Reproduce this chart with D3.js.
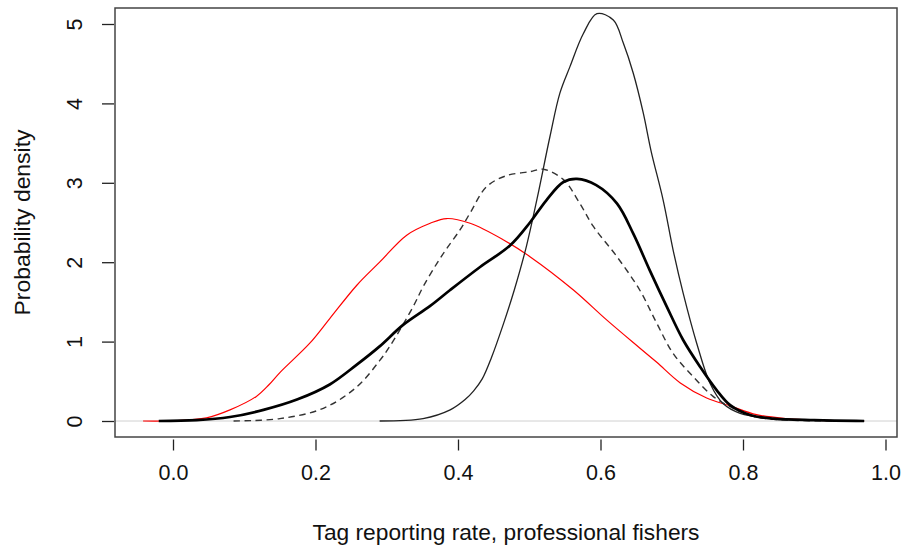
<!DOCTYPE html>
<html>
<head>
<meta charset="utf-8">
<script src="https://cdn.jsdelivr.net/npm/d3@7"></script>
<style>
  html, body { margin: 0; padding: 0; background: #fff; }
  svg { display: block; font-family: "Liberation Sans", Arial, sans-serif; }
</style>
</head>
<body>
<svg id="chart" width="903" height="549"></svg>
<script>
// ---- data ----
const xTicks = [0.0, 0.2, 0.4, 0.6, 0.8, 1.0];
const yTicks = [0, 1, 2, 3, 4, 5];
const xLabel = "Tag reporting rate, professional fishers";
const yLabel = "Probability density";

const redX = [-0.042, 0.0, 0.047, 0.08, 0.117, 0.135, 0.15, 0.192, 0.22, 0.258, 0.29, 0.328, 0.361, 0.384, 0.417, 0.464, 0.501, 0.562, 0.609, 0.655, 0.679, 0.712, 0.749, 0.782, 0.819, 0.861, 0.9, 0.97];
const redY = [0, 0.003, 0.04, 0.14, 0.31, 0.46, 0.61, 0.98, 1.29, 1.71, 2.0, 2.34, 2.49, 2.55, 2.49, 2.28, 2.07, 1.65, 1.27, 0.92, 0.74, 0.48, 0.29, 0.19, 0.08, 0.03, 0.01, 0];

const thickX = [-0.02, 0.033, 0.08, 0.127, 0.174, 0.22, 0.258, 0.29, 0.323, 0.361, 0.389, 0.431, 0.473, 0.501, 0.524, 0.548, 0.567, 0.594, 0.623, 0.646, 0.669, 0.693, 0.716, 0.74, 0.763, 0.782, 0.81, 0.843, 0.9, 0.97];
const thickY = [0, 0.01, 0.05, 0.14, 0.27, 0.46, 0.71, 0.94, 1.21, 1.45, 1.65, 1.94, 2.21, 2.50, 2.78, 3.01, 3.05, 2.97, 2.74, 2.36, 1.90, 1.44, 1.02, 0.68, 0.39, 0.20, 0.076, 0.03, 0.01, 0];

const dashX = [0.085, 0.15, 0.211, 0.258, 0.29, 0.305, 0.337, 0.351, 0.37, 0.384, 0.403, 0.417, 0.44, 0.468, 0.501, 0.52, 0.548, 0.571, 0.59, 0.623, 0.655, 0.679, 0.702, 0.73, 0.758, 0.782, 0.819, 0.87, 0.97];
const dashY = [0, 0.03, 0.16, 0.43, 0.76, 0.95, 1.44, 1.69, 1.98, 2.17, 2.41, 2.62, 2.95, 3.09, 3.14, 3.17, 3.04, 2.74, 2.45, 2.07, 1.65, 1.23, 0.85, 0.56, 0.31, 0.18, 0.05, 0.01, 0];

const thinX = [0.29, 0.351, 0.389, 0.41, 0.422, 0.434, 0.447, 0.464, 0.479, 0.496, 0.511, 0.529, 0.543, 0.557, 0.576, 0.595, 0.618, 0.632, 0.646, 0.66, 0.671, 0.688, 0.702, 0.716, 0.735, 0.754, 0.772, 0.796, 0.843, 0.9, 0.97];
const thinY = [0, 0.03, 0.14, 0.27, 0.38, 0.53, 0.80, 1.23, 1.65, 2.20, 2.80, 3.58, 4.13, 4.46, 4.88, 5.13, 5.05, 4.76, 4.38, 3.88, 3.40, 2.78, 2.15, 1.61, 0.98, 0.47, 0.22, 0.097, 0.03, 0.01, 0];

// ---- layout ----
const box = { left: 115, right: 897, top: 8, bottom: 437 };
const x = d3.scaleLinear().domain([0, 1]).range([173, 885.5]);
const y = d3.scaleLinear().domain([0, 5]).range([421, 24]);

const svg = d3.select("#chart");

// baseline at 0
svg.append("line")
  .attr("x1", box.left).attr("x2", box.right)
  .attr("y1", y(0)).attr("y2", y(0))
  .attr("stroke", "#d0d0d0").attr("stroke-width", 1);

const line = d3.line()
  .x(d => x(d[0]))
  .y(d => y(Math.max(0, d[1])))
  .curve(d3.curveCatmullRom.alpha(0.5));
const zip = (a, b) => a.map((v, i) => [v, b[i]]);

const series = [
  { xs: redX, ys: redY, stroke: "#ff0000", width: 1.2, dash: null },
  { xs: thinX, ys: thinY, stroke: "#222222", width: 1.3, dash: null },
  { xs: dashX, ys: dashY, stroke: "#333333", width: 1.4, dash: "6.5,4.5" },
  { xs: thickX, ys: thickY, stroke: "#000000", width: 2.7, dash: null }
];

series.forEach(s => {
  svg.append("path")
    .datum(zip(s.xs, s.ys))
    .attr("d", line)
    .attr("fill", "none")
    .attr("stroke", s.stroke)
    .attr("stroke-width", s.width)
    .attr("stroke-linejoin", "round")
    .attr("stroke-dasharray", s.dash);
});

// box
svg.append("rect")
  .attr("x", box.left).attr("y", box.top)
  .attr("width", box.right - box.left).attr("height", box.bottom - box.top)
  .attr("fill", "none").attr("stroke", "#444").attr("stroke-width", 1.5);

// x axis (ticks + labels)
const xAxis = d3.axisBottom(x).tickValues(xTicks).tickFormat(d3.format(".1f")).tickSize(11).tickPadding(14);
const gx = svg.append("g").attr("transform", `translate(0,${box.bottom + 2.5})`).call(xAxis);
gx.select(".domain").remove();
gx.selectAll(".tick line").attr("stroke", "#222").attr("stroke-width", 1.3);
gx.selectAll(".tick text").attr("font-size", 21.5).attr("fill", "#111")
  .attr("font-family", "'Liberation Sans', Arial, sans-serif");

// y axis (ticks + rotated labels)
const yAxis = d3.axisLeft(y).tickValues(yTicks).tickFormat(d3.format("d")).tickSize(12).tickPadding(0);
const gy = svg.append("g").attr("transform", `translate(${box.left - 1},0)`).call(yAxis);
gy.select(".domain").remove();
gy.selectAll(".tick line").attr("stroke", "#222").attr("stroke-width", 1.3);
gy.selectAll(".tick text")
  .attr("font-size", 21.5).attr("fill", "#111")
  .attr("font-family", "'Liberation Sans', Arial, sans-serif")
  .attr("x", null).attr("dy", null)
  .attr("text-anchor", "middle")
  .attr("transform", "translate(-32,0) rotate(-90)");

// axis titles
svg.append("text")
  .attr("x", (box.left + box.right) / 2).attr("y", 539.5)
  .attr("text-anchor", "middle").attr("font-size", 22.5).attr("fill", "#111")
  .attr("textLength", 387).attr("lengthAdjust", "spacingAndGlyphs")
  .text(xLabel);

svg.append("text")
  .attr("transform", `translate(30,${(box.top + box.bottom) / 2}) rotate(-90)`)
  .attr("text-anchor", "middle").attr("font-size", 22.5).attr("fill", "#111")
  .attr("textLength", 186).attr("lengthAdjust", "spacingAndGlyphs")
  .text(yLabel);
</script>
</body>
</html>
